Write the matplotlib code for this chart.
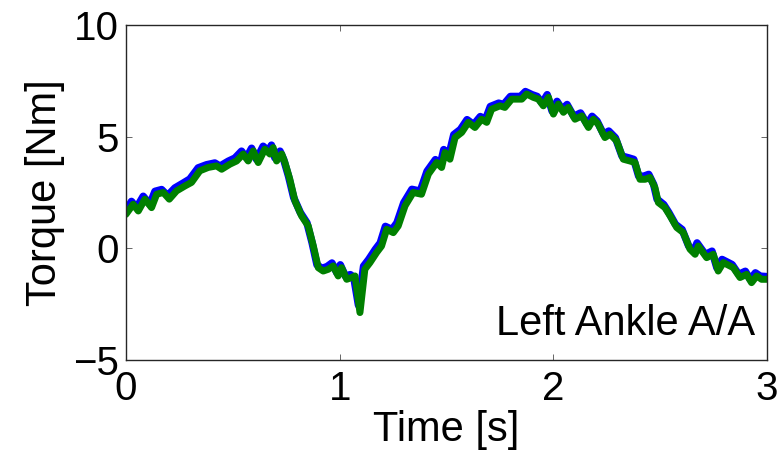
import numpy as np
import matplotlib
matplotlib.use("Agg")
import matplotlib.pyplot as plt

# green trace
t_green = [0.0, 0.034, 0.058, 0.089, 0.12, 0.144, 0.175, 0.203, 0.237, 0.276,
           0.307, 0.346, 0.385, 0.424, 0.448, 0.487, 0.518, 0.549, 0.572, 0.596,
           0.619, 0.650, 0.674, 0.689, 0.705, 0.729, 0.744, 0.767, 0.791, 0.822,
           0.853, 0.877, 0.9, 0.923, 0.947, 0.970, 0.993, 1.009, 1.033, 1.056,
           1.072, 1.095, 1.118, 1.142, 1.173, 1.196, 1.220, 1.251, 1.274, 1.306,
           1.344, 1.383, 1.415, 1.454, 1.477, 1.493, 1.516, 1.540, 1.571, 1.602,
           1.633, 1.664, 1.688, 1.711, 1.750, 1.773, 1.805, 1.852, 1.875, 1.906,
           1.930, 1.953, 1.977, 2.0, 2.023, 2.047, 2.070, 2.101, 2.133, 2.164,
           2.187, 2.210, 2.241, 2.265, 2.296, 2.327, 2.358, 2.382, 2.405, 2.429,
           2.452, 2.475, 2.491, 2.522, 2.546, 2.577, 2.608, 2.639, 2.663, 2.678,
           2.717, 2.748, 2.771, 2.795, 2.842, 2.873, 2.904, 2.927, 2.951, 2.974,
           3.0]
torque_green = [1.52, 1.97, 1.67, 2.20, 1.82, 2.42, 2.50, 2.20, 2.57, 2.79,
                2.95, 3.47, 3.62, 3.69, 3.54, 3.77, 3.91, 4.22, 3.91, 4.36,
                3.84, 4.44, 4.22, 4.51, 3.91, 4.22, 3.84, 3.09, 2.12, 1.45,
                1.0, 0.1, -0.87, -1.02, -0.94, -0.79, -1.24, -0.87, -1.39, -1.31,
                -1.24, -2.88, -0.94, -0.64, -0.19, 0.1, 0.85, 0.70, 1.0, 1.90,
                2.50, 2.42, 3.32, 3.84, 3.62, 4.29, 3.99, 4.96, 5.19, 5.64,
                5.41, 5.78, 5.64, 6.23, 6.38, 6.31, 6.68, 6.68, 6.91, 6.76,
                6.68, 6.38, 6.76, 6.01, 6.46, 6.09, 6.31, 5.78, 5.93, 5.41,
                5.78, 5.56, 4.96, 5.11, 4.81, 3.99, 3.91, 3.84, 3.09, 3.09,
                3.17, 2.72, 2.05, 1.82, 1.45, 0.93, 0.70, -0.04, -0.27, 0.1,
                -0.42, -0.27, -1.02, -0.64, -0.87, -1.31, -1.17, -1.54, -1.24, -1.39,
                -1.39]

# blue trace, a little ahead of and above the green one
t_blue = [0.0, 0.026, 0.05, 0.081, 0.112, 0.136, 0.167, 0.195, 0.229, 0.268,
          0.299, 0.338, 0.377, 0.416, 0.44, 0.479, 0.51, 0.541, 0.564, 0.588,
          0.611, 0.642, 0.666, 0.681, 0.697, 0.721, 0.738, 0.761, 0.785, 0.816,
          0.847, 0.871, 0.894, 0.917, 0.941, 0.964, 0.987, 1.003, 1.027, 1.05,
          1.066, 1.088, 1.112, 1.136, 1.167, 1.19, 1.214, 1.245, 1.268, 1.3,
          1.338, 1.377, 1.409, 1.448, 1.471, 1.487, 1.51, 1.534, 1.565, 1.596,
          1.627, 1.658, 1.682, 1.705, 1.744, 1.767, 1.799, 1.846, 1.869, 1.9,
          1.924, 1.947, 1.971, 1.994, 2.017, 2.041, 2.064, 2.095, 2.127, 2.158,
          2.181, 2.204, 2.235, 2.259, 2.29, 2.321, 2.352, 2.376, 2.399, 2.423,
          2.446, 2.469, 2.485, 2.516, 2.54, 2.571, 2.602, 2.633, 2.657, 2.672,
          2.711, 2.742, 2.765, 2.789, 2.836, 2.867, 2.898, 2.921, 2.945, 2.968,
          3.0]
torque_blue = [1.68, 2.1, 1.82, 2.33, 1.97, 2.55, 2.63, 2.36, 2.7, 2.92,
               3.1, 3.6, 3.74, 3.82, 3.68, 3.9, 4.04, 4.35, 4.05, 4.48,
               3.98, 4.57, 4.36, 4.62, 4.05, 4.35, 3.98, 3.22, 2.27, 1.6,
               1.14, 0.25, -0.74, -0.9, -0.82, -0.66, -1.1, -0.74, -1.25, -1.18,
               -1.3, -2.55, -0.8, -0.5, -0.05, 0.24, 0.98, 0.84, 1.14, 2.04,
               2.64, 2.56, 3.45, 3.97, 3.76, 4.42, 4.13, 5.09, 5.32, 5.76,
               5.54, 5.9, 5.77, 6.35, 6.5, 6.44, 6.8, 6.8, 7.02, 6.88,
               6.8, 6.5, 6.88, 6.14, 6.58, 6.22, 6.44, 5.91, 6.06, 5.55,
               5.91, 5.7, 5.1, 5.25, 4.95, 4.13, 4.05, 3.98, 3.23, 3.23,
               3.31, 2.86, 2.2, 1.96, 1.6, 1.07, 0.84, 0.1, -0.13, 0.24,
               -0.28, -0.13, -0.88, -0.5, -0.73, -1.17, -1.03, -1.4, -1.1, -1.25,
               -1.27]


def main():
    fig = plt.figure(figsize=(7.82, 4.55), dpi=100)
    ax = fig.add_axes([0.161, 0.209, 0.82, 0.736])
    font = 'Liberation Sans'

    ax.plot(t_blue, torque_blue, color=(0, 0, 1), lw=5.4, solid_capstyle='round',
            solid_joinstyle='round')
    ax.plot(t_green, torque_green, color=(0, 0.5, 0), lw=5.0, solid_capstyle='round',
            solid_joinstyle='round')

    ax.set_xlim(0, 3)
    ax.set_ylim(-5, 10)
    ax.set_xticks([0, 1, 2, 3])
    ax.set_yticks([-5, 0, 5, 10])
    ax.set_yticklabels(['\u22125', '0', '5', '10'])
    ax.tick_params(direction='in', length=4, width=0.6, color='0.3',
                   top=True, right=True, labelsize=29)
    ax.tick_params(axis='x', pad=7)
    ax.tick_params(axis='y', pad=5)
    for lbl in ax.get_xticklabels() + ax.get_yticklabels():
        lbl.set_fontfamily(font)
    for s in ax.spines.values():
        s.set_linewidth(1.0)
        s.set_color('0.15')

    ax.set_xlabel('Time [s]', fontsize=30, family=font, labelpad=2)
    ax.set_ylabel('Torque [Nm]', fontsize=30, family=font, labelpad=6)
    ax.text(0.981, 0.0746, 'Left Ankle A/A', transform=ax.transAxes, ha='right',
            va='baseline', fontsize=30, family=font)

    fig.savefig('out.png', dpi=100)


if __name__ == "__main__":
    main()
